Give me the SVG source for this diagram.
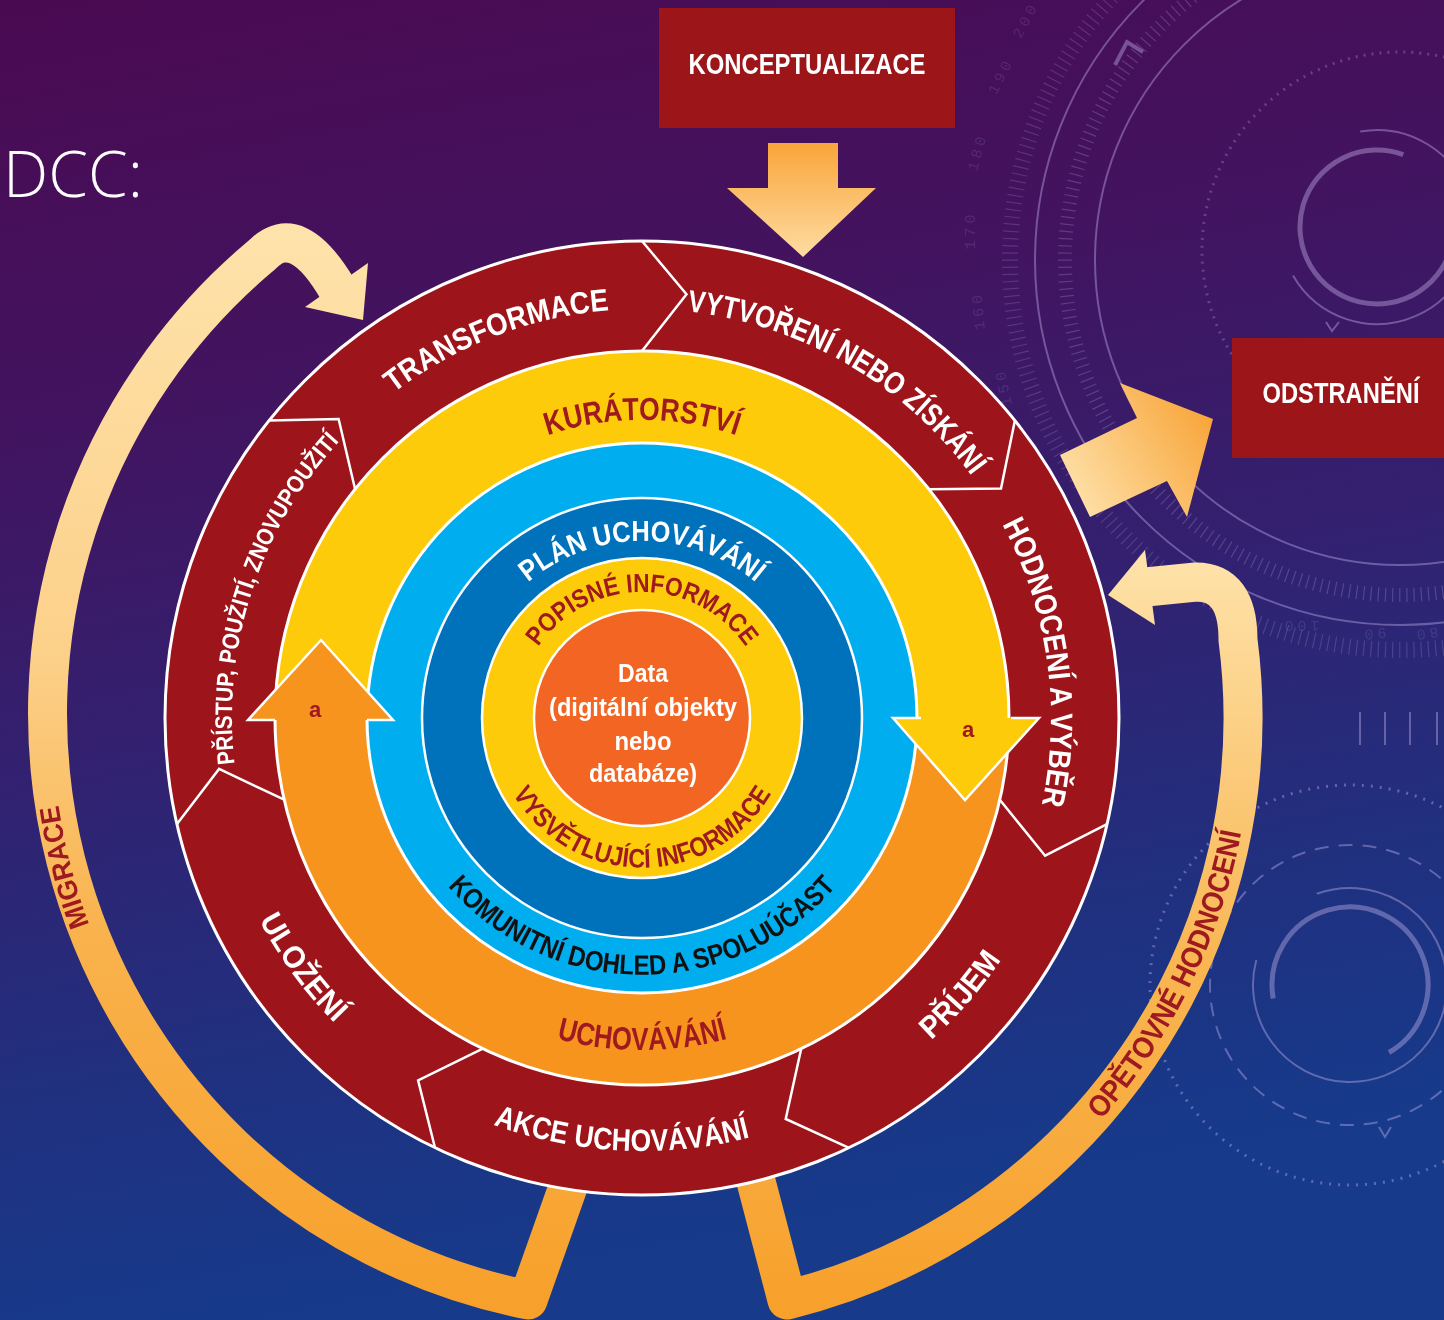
<svg xmlns="http://www.w3.org/2000/svg" width="1444" height="1320" viewBox="0 0 1444 1320">
<defs>
 <linearGradient id="bg" x1="0" y1="0" x2="0.2" y2="1">
  <stop offset="0" stop-color="#4a0a52"/>
  <stop offset="0.3" stop-color="#43135f"/>
  <stop offset="0.55" stop-color="#33206f"/>
  <stop offset="0.8" stop-color="#20307f"/>
  <stop offset="1" stop-color="#173a8b"/>
 </linearGradient>
 <linearGradient id="gMig" gradientUnits="userSpaceOnUse" x1="0" y1="1320" x2="0" y2="220">
  <stop offset="0" stop-color="#f7a02a"/>
  <stop offset="0.35" stop-color="#f9b24c"/>
  <stop offset="0.6" stop-color="#fcd089"/>
  <stop offset="1" stop-color="#fee3ab"/>
 </linearGradient>
 <linearGradient id="gReh" gradientUnits="userSpaceOnUse" x1="0" y1="1320" x2="0" y2="550">
  <stop offset="0" stop-color="#f7a02a"/>
  <stop offset="0.45" stop-color="#f9b550"/>
  <stop offset="1" stop-color="#fee3ab"/>
 </linearGradient>
 <linearGradient id="gDown" gradientUnits="userSpaceOnUse" x1="0" y1="143" x2="0" y2="257">
  <stop offset="0" stop-color="#f9a53a"/>
  <stop offset="1" stop-color="#fedca2"/>
 </linearGradient>
 <linearGradient id="gOut" gradientUnits="userSpaceOnUse" x1="1065" y1="500" x2="1213" y2="410">
  <stop offset="0" stop-color="#fee3ad"/>
  <stop offset="1" stop-color="#f8a336"/>
 </linearGradient>
 <path id="pTrans" d="M 287.8 513.5 A 409 409 0 0 1 768.4 329.0"/>
 <path id="pVytv" d="M 571.0 315.2 A 409 409 0 0 1 1026.3 578.1"/>
 <path id="pHodn" d="M 915.7 414.1 A 409 409 0 0 1 988.8 934.7"/>
 <path id="pPrij" d="M 783.0 1127.4 A 433 433 0 0 0 1067.0 800.6"/>
 <path id="pAkce" d="M 347.8 1035.7 A 433 433 0 0 0 903.8 1062.9"/>
 <path id="pUloz" d="M 209.9 690.1 A 433 433 0 0 0 539.5 1138.7"/>
 <path id="pPrist" d="M 294.3 935.3 A 410 410 0 0 1 488.4 337.8"/>
 <path id="pKur" d="M 413.7 526.4 A 298 298 0 0 1 870.3 526.4"/>
 <path id="pUch" d="M 387.7 931.4 A 332 332 0 0 0 896.3 931.4"/>
 <path id="pKom" d="M 393.8 784.5 A 257 257 0 0 0 890.2 784.5"/>
 <path id="pPlan" d="M 488.7 629.5 A 177 177 0 0 1 795.3 629.5"/>
 <path id="pPop" d="M 520.3 685.4 A 126 126 0 0 1 763.7 685.4"/>
 <path id="pVysv" d="M 492.6 731.1 A 150 150 0 0 0 791.4 731.1"/>
 <path id="pMig" d="M 158.7 1056.4 A 590 590 0 0 1 55.2 656.3"/>
 <path id="pReh" d="M 983.1 1223.7 A 610 610 0 0 0 1250.5 675.4"/>
</defs>
<style>
 .t { font-family: "Liberation Sans Narrow", "Arial Narrow", "Liberation Sans", sans-serif; font-weight: 700; }
 .w { fill: #ffffff; }
 .dr { fill: #9e1a20; }
 .k { fill: #111111; }
 .wl { fill: none; stroke: #ffffff; stroke-width: 2.5; stroke-linejoin: miter; }
 .box { fill: #9c1519; }
 .dec { fill: none; stroke: #c7b6ee; }
 .num { font-family: "Liberation Mono", monospace; font-size: 15px; fill: #c7b6ee; opacity: 0.35; letter-spacing: 4px; }
</style>

<rect x="0" y="0" width="1444" height="1320" fill="url(#bg)"/>

<g id="decor" opacity="0.4">
 <circle class="dec" cx="1400" cy="260" r="365" stroke-width="2"/>
 <circle class="dec" cx="1400" cy="260" r="305" stroke-width="2"/>
 <circle class="dec" cx="1400" cy="260" r="335" stroke-width="14" stroke-dasharray="1.2 6" opacity="0.6"/>
 <circle class="dec" cx="1400" cy="260" r="390" stroke-width="16" stroke-dasharray="1.2 6" opacity="0.5"/>
 <circle class="dec" cx="1400" cy="250" r="198" stroke-width="3" stroke-dasharray="2 6" opacity="0.7"/>
 <path class="dec" stroke-width="5" d="M 1403.3 154.6 A 77 77 0 1 0 1452.8 240.4"/>
 <path class="dec" stroke-width="2" d="M 1360.2 131.5 A 97 97 0 1 1 1293 275.5"/>
 <path class="dec" stroke-width="5" d="M 1273.2 998.5 A 78 78 0 1 1 1389 1052.5"/>
 <path class="dec" stroke-width="2" d="M 1316.8 893.8 A 97 97 0 1 1 1256.3 959.9"/>
 <circle class="dec" cx="1350" cy="985" r="140" stroke-width="2" stroke-dasharray="14 10"/>
 <circle class="dec" cx="1350" cy="985" r="200" stroke-width="3" stroke-dasharray="2 7"/>
 <path class="dec" stroke-width="4" d="M 1115 65 L 1127 42 L 1143 52"/>
 <path class="dec" stroke-width="2" d="M 1326 322 L 1332 331 L 1339 322"/>
 <path class="dec" stroke-width="2" d="M 1379 1127 L 1385 1137 L 1391 1127"/>
 <path class="dec" stroke-width="2" d="M 1360 712 V 745 M 1385 712 V 745 M 1410 712 V 745 M 1437 712 V 745"/>
 <text class="num" text-anchor="middle" transform="translate(1030,22) rotate(-62)">200</text>
 <text class="num" text-anchor="middle" transform="translate(1005,78) rotate(-63)">190</text>
 <text class="num" text-anchor="middle" transform="translate(982,153) rotate(-75)">180</text>
 <text class="num" text-anchor="middle" transform="translate(975,230) rotate(-90)">170</text>
 <text class="num" text-anchor="middle" transform="translate(983,310) rotate(-95)">160</text>
 <text class="num" text-anchor="middle" transform="translate(1008,386) rotate(-102)">150</text>
 <text class="num" text-anchor="middle" transform="translate(1300,621) rotate(180)">100</text>
 <text class="num" text-anchor="middle" transform="translate(1373,629) rotate(175)">90</text>
 <text class="num" text-anchor="middle" transform="translate(1425,629) rotate(172)">80</text>
</g>

<g id="title">
 <text x="3" y="197" font-family="'Open Sans', 'Liberation Sans', sans-serif" font-weight="300" font-size="64" fill="#ffffff">DCC:</text>
</g>

<g id="connectors">
 <g id="migrace">
  <path d="M 574 1170 L 528 1300 A 598 598 0 0 1 263 254 Q 297 220 338 290" fill="none" stroke="url(#gMig)" stroke-width="39" stroke-linejoin="round"/>
  <polygon points="368,263 363,320 305,307" fill="url(#gMig)"/>
  <text class="t dr" font-size="28"><textPath href="#pMig" startOffset="50%" text-anchor="middle" textLength="124" lengthAdjust="spacingAndGlyphs">MIGRACE</textPath></text>
 </g>
 <g id="opetovne-hodnoceni">
  <path d="M 753 1170 L 787 1300 A 600 600 0 0 0 1238 640 Q 1238 582 1196 582 L 1146 587" fill="none" stroke="url(#gReh)" stroke-width="39" stroke-linejoin="round"/>
  <polygon points="1145,550 1108,595 1155,625" fill="url(#gReh)"/>
  <text class="t dr" font-size="30"><textPath href="#pReh" startOffset="50%" text-anchor="middle" textLength="324" lengthAdjust="spacingAndGlyphs">OPĚTOVNÉ HODNOCENÍ</textPath></text>
 </g>
 <polygon id="arrow-konceptualizace" points="768,143 838,143 838,188 876,188 803,257 727,188 768,188" fill="url(#gDown)"/>
 <polygon id="arrow-odstraneni" points="1060,455 1137,418 1120,383 1213,419 1187,517 1167,481 1090,517" fill="url(#gOut)"/>
</g>

<g id="konceptualizace">
 <rect class="box" x="659" y="8" width="296" height="120"/>
 <text class="t w" x="807" y="74" font-size="29" text-anchor="middle" textLength="237" lengthAdjust="spacingAndGlyphs">KONCEPTUALIZACE</text>
</g>

<g id="odstraneni">
 <rect class="box" x="1232" y="338" width="212" height="120"/>
 <text class="t w" x="1341" y="403" font-size="29" text-anchor="middle" textLength="157" lengthAdjust="spacingAndGlyphs">ODSTRANĚNÍ</text>
</g>

<g id="lifecycle-ring">
 <circle cx="642" cy="718" r="477" fill="#9d151a" stroke="#ffffff" stroke-width="3"/>
 <path d="M 275 718 A 367 367 0 0 1 1009 718 Z" fill="#fecb0b"/>
 <path d="M 1009 718 A 367 367 0 0 1 275 718 Z" fill="#f7941e"/>
 <circle cx="642" cy="718" r="367" fill="none" stroke="#ffffff" stroke-width="3"/>
 <polyline class="wl" points="642,241 686.5,294.3 642,351"/>
 <polyline class="wl" points="1014.9,420.6 1001.0,488.6 928.9,489.2"/>
 <polyline class="wl" points="1107.0,824.1 1045.1,855.7 999.8,799.7"/>
 <polyline class="wl" points="849.0,1147.8 785.7,1119.0 801.2,1048.7"/>
 <polyline class="wl" points="435.0,1147.8 418.1,1080.4 482.8,1048.7"/>
 <polyline class="wl" points="177.0,824.1 219.1,768.9 284.2,799.7"/>
 <polyline class="wl" points="269.1,420.6 338.6,419.0 355.1,489.2"/>
</g>

<g id="stage-transformace"><text class="t w" font-size="31"><textPath href="#pTrans" startOffset="50%" text-anchor="middle" textLength="234" lengthAdjust="spacingAndGlyphs">TRANSFORMACE</textPath></text></g>
<g id="stage-vytvoreni"><text class="t w" font-size="31"><textPath href="#pVytv" startOffset="50%" text-anchor="middle" textLength="338" lengthAdjust="spacingAndGlyphs">VYTVOŘENÍ NEBO ZÍSKÁNÍ</textPath></text></g>
<g id="stage-hodnoceni"><text class="t w" font-size="31"><textPath href="#pHodn" startOffset="50%" text-anchor="middle" textLength="289" lengthAdjust="spacingAndGlyphs">HODNOCENÍ A VÝBĚR</textPath></text></g>
<g id="stage-prijem"><text class="t w" font-size="31"><textPath href="#pPrij" startOffset="50%" text-anchor="middle" textLength="107" lengthAdjust="spacingAndGlyphs">PŘÍJEM</textPath></text></g>
<g id="stage-akce"><text class="t w" font-size="31"><textPath href="#pAkce" startOffset="50%" text-anchor="middle" textLength="261" lengthAdjust="spacingAndGlyphs">AKCE UCHOVÁVÁNÍ</textPath></text></g>
<g id="stage-ulozeni"><text class="t w" font-size="31"><textPath href="#pUloz" startOffset="50%" text-anchor="middle" textLength="128" lengthAdjust="spacingAndGlyphs">ULOŽENÍ</textPath></text></g>
<g id="stage-pristup"><text class="t w" font-size="24"><textPath href="#pPrist" startOffset="50%" text-anchor="middle" textLength="350" lengthAdjust="spacingAndGlyphs">PŘÍSTUP, POUŽITÍ, ZNOVUPOUŽITÍ</textPath></text></g>

<g id="komunitni-dohled">
 <circle cx="642" cy="718" r="275" fill="#00aeef" stroke="#ffffff" stroke-width="3"/>
 <text class="t k" font-size="28"><textPath href="#pKom" startOffset="50%" text-anchor="middle" textLength="440" lengthAdjust="spacingAndGlyphs">KOMUNITNÍ DOHLED A SPOLUÚČAST</textPath></text>
</g>
<g id="plan-uchovavani">
 <circle cx="642" cy="718" r="220" fill="#0072bc" stroke="#ffffff" stroke-width="2.5"/>
 <text class="t w" font-size="29"><textPath href="#pPlan" startOffset="50%" text-anchor="middle" textLength="247" lengthAdjust="spacingAndGlyphs">PLÁN UCHOVÁVÁNÍ</textPath></text>
</g>
<g id="informace">
 <circle cx="642" cy="718" r="160" fill="#fecb0b" stroke="#ffffff" stroke-width="2.5"/>
 <text class="t dr" font-size="26"><textPath href="#pPop" startOffset="50%" text-anchor="middle" textLength="244" lengthAdjust="spacingAndGlyphs">POPISNÉ INFORMACE</textPath></text>
 <text class="t dr" font-size="27"><textPath href="#pVysv" startOffset="50%" text-anchor="middle" textLength="312" lengthAdjust="spacingAndGlyphs">VYSVĚTLUJÍCÍ INFORMACE</textPath></text>
</g>
<g id="data">
 <circle cx="642" cy="718" r="108" fill="#f26522" stroke="#ffffff" stroke-width="2.5"/>
 <g class="t w" font-size="26" text-anchor="middle">
  <text x="643" y="682" textLength="50" lengthAdjust="spacingAndGlyphs">Data</text>
  <text x="643" y="716" textLength="188" lengthAdjust="spacingAndGlyphs">(digitální objekty</text>
  <text x="643" y="750" textLength="57" lengthAdjust="spacingAndGlyphs">nebo</text>
  <text x="643" y="782" textLength="108" lengthAdjust="spacingAndGlyphs">databáze)</text>
 </g>
</g>

<g id="kuratorstvi">
 <polygon points="921,718 893,718 965,800 1039,718 1011,718" fill="#fecb0b"/>
 <polyline class="wl" points="921,718 893,718 965,800 1039,718 1011,718"/>
 <text class="t dr" font-size="32"><textPath href="#pKur" startOffset="50%" text-anchor="middle" textLength="192" lengthAdjust="spacingAndGlyphs">KURÁTORSTVÍ</textPath></text>
 <text class="t dr" x="968" y="737" font-size="22" text-anchor="middle">a</text>
</g>
<g id="uchovavani">
 <polygon points="275,720 248,720 321,640 393,720 367,720" fill="#f7941e"/>
 <polyline class="wl" points="275,720 248,720 321,640 393,720 367,720"/>
 <text class="t dr" font-size="32"><textPath href="#pUch" startOffset="50%" text-anchor="middle" textLength="173" lengthAdjust="spacingAndGlyphs">UCHOVÁVÁNÍ</textPath></text>
 <text class="t dr" x="315" y="717" font-size="22" text-anchor="middle">a</text>
</g>
</svg>
